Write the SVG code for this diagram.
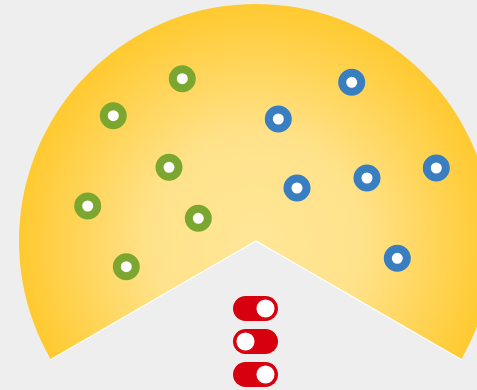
<svg xmlns="http://www.w3.org/2000/svg" width="477" height="390" viewBox="0 0 477 390">
<style>
.g{fill:#fff;stroke:#7ba62f;stroke-width:8}
.b{fill:#fff;stroke:#387ec0;stroke-width:8}
.pill{fill:#d6000f}
.knob{fill:#fff;stroke:#d6000f;stroke-width:1.5}
</style>
<defs>
<radialGradient id="yg" cx="256" cy="241" r="237" gradientUnits="userSpaceOnUse">
<stop offset="0" stop-color="#ffe697"/>
<stop offset="0.45" stop-color="#ffe28a"/>
<stop offset="1" stop-color="#ffca30"/>
</radialGradient>
</defs>
<rect width="477" height="390" fill="#eeeeee"/>
<g id="pie">
<path d="M256,241 L461.2,359.5 A237,237 0 1 0 50.8,359.5 Z" fill="url(#yg)"/>
<path d="M50.8,359.5 L256,241 L461.2,359.5" fill="none" stroke="#ffffff" stroke-width="1.2"/>
</g>
<g id="green-nodes">
<g id="g1"><circle class="g" cx="182.3" cy="78.7" r="9.5"/></g>
<g id="g2"><circle class="g" cx="113.3" cy="115.7" r="9.5"/></g>
<g id="g3"><circle class="g" cx="169" cy="167.3" r="9.5"/></g>
<g id="g4"><circle class="g" cx="87.7" cy="206" r="9.5"/></g>
<g id="g5"><circle class="g" cx="198.3" cy="218.3" r="9.5"/></g>
<g id="g6"><circle class="g" cx="126.3" cy="266.7" r="9.5"/></g>
</g>
<g id="blue-nodes">
<g id="b1"><circle class="b" cx="351.7" cy="82.3" r="9.5"/></g>
<g id="b2"><circle class="b" cx="278.3" cy="119" r="9.5"/></g>
<g id="b3"><circle class="b" cx="297" cy="188" r="9.5"/></g>
<g id="b4"><circle class="b" cx="367" cy="178" r="9.5"/></g>
<g id="b5"><circle class="b" cx="436.3" cy="168" r="9.5"/></g>
<g id="b6"><circle class="b" cx="397.3" cy="258.3" r="9.5"/></g>
</g>
<g id="toggle1"><rect class="pill" x="233" y="296" width="45" height="25" rx="12.5"/><circle class="knob" cx="265.5" cy="308.5" r="9.8"/></g>
<g id="toggle2"><rect class="pill" x="233" y="329" width="45" height="25" rx="12.5"/><circle class="knob" cx="245.5" cy="341.5" r="9.8"/></g>
<g id="toggle3"><rect class="pill" x="233" y="362" width="45" height="25" rx="12.5"/><circle class="knob" cx="265.5" cy="374.5" r="9.8"/></g>
<g id="connectors"/>
</svg>
